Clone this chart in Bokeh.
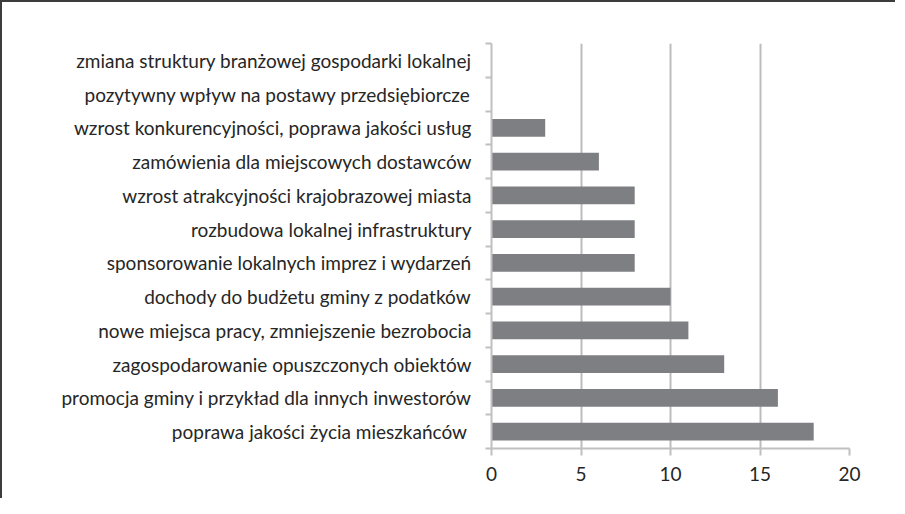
from bokeh.plotting import figure
from bokeh.models import FixedTicker, Range1d, ColumnDataSource
from bokeh.embed import file_html
from bokeh.resources import INLINE

categories = [
    "zmiana struktury branżowej gospodarki lokalnej",
    "pozytywny wpływ na postawy przedsiębiorcze",
    "wzrost konkurencyjności, poprawa jakości usług",
    "zamówienia dla miejscowych dostawców",
    "wzrost atrakcyjności krajobrazowej miasta",
    "rozbudowa lokalnej infrastruktury",
    "sponsorowanie lokalnych imprez i wydarzeń",
    "dochody do budżetu gminy z podatków",
    "nowe miejsca pracy, zmniejszenie bezrobocia",
    "zagospodarowanie opuszczonych obiektów",
    "promocja gminy i przykład dla innych inwestorów",
    "poprawa jakości życia mieszkańców\u00a0",
]
values = [0, 0, 3, 6, 8, 8, 8, 10, 11, 13, 16, 18]
x_ticks = [0, 5, 10, 15, 20]

n = len(categories)
ypos = [n - 1 - i + 0.5 for i in range(n)]
src = ColumnDataSource(dict(y=ypos, v=values, cat=categories))

p = figure(width=895, height=498, output_backend="svg", toolbar_location=None,
           x_range=Range1d(0, 20), y_range=Range1d(0, n),
           min_border_left=489, min_border_right=48, min_border_top=41,
           min_border_bottom=52)
p.styles = {"border-top": "2px solid #3c3c3c", "border-left": "2px solid #3c3c3c"}
p.outline_line_color = None
p.background_fill_color = "white"

p.hbar(y="y", right="v", left=0, height=0.53, source=src,
       fill_color="#7e7f83", line_color=None)

# x axis
p.xaxis.ticker = FixedTicker(ticks=x_ticks)
p.xaxis.axis_line_color = "#c0c0c0"
p.xaxis.axis_line_width = 2
p.xaxis.major_tick_line_color = "#c0c0c0"
p.xaxis.major_tick_line_width = 2
p.xaxis.major_tick_out = 7
p.xaxis.major_tick_in = 0
p.xaxis.minor_tick_line_color = None
p.xaxis.major_label_standoff = 11
p.xaxis.major_label_text_font = "Lato"
p.xaxis.major_label_text_font_size = "19px"
p.xaxis.major_label_text_color = "#262626"

# y axis: labels at row centres, ticks at row boundaries
p.yaxis.ticker = FixedTicker(ticks=ypos, minor_ticks=list(range(n + 1)))
p.yaxis.major_label_overrides = {y: c for y, c in zip(ypos, categories)}
p.yaxis.axis_line_color = "#c0c0c0"
p.yaxis.axis_line_width = 2
p.yaxis.major_tick_line_color = None
p.yaxis.major_tick_out = 0
p.yaxis.major_tick_in = 0
p.yaxis.minor_tick_line_color = "#c0c0c0"
p.yaxis.minor_tick_line_width = 2
p.yaxis.minor_tick_out = 6
p.yaxis.minor_tick_in = 0
p.yaxis.major_label_standoff = 14
p.yaxis.major_label_text_font = "Lato"
p.yaxis.major_label_text_font_size = "19px"
p.yaxis.major_label_text_color = "#262626"

p.xgrid.ticker = FixedTicker(ticks=x_ticks[1:])
p.xgrid.grid_line_color = "#bcbcbc"
p.xgrid.grid_line_width = 2
p.ygrid.grid_line_color = None

open("out.html", "w").write(file_html(p, INLINE))
